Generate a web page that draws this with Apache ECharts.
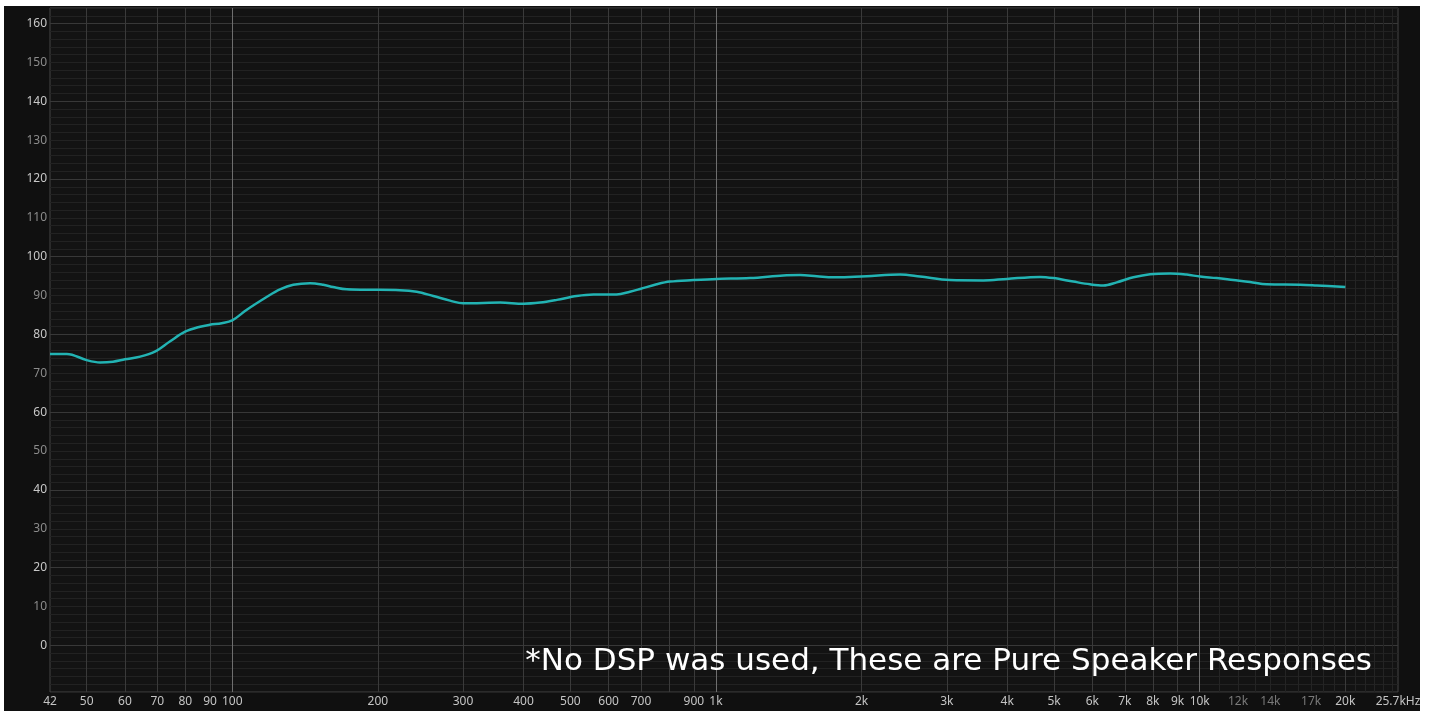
<!DOCTYPE html>
<html><head><meta charset="utf-8">
<script src="https://cdn.jsdelivr.net/npm/echarts@6/dist/echarts.min.js"></script>
<style>html,body{margin:0;padding:0;background:#ffffff;}#c{width:1431px;height:711px;}</style>
</head><body><div id="c"></div>
<script>
// Frequency (Hz) and SPL (dB)
const freqHz = [42, 45.5, 50, 53.3, 56.7, 60, 64.5, 69.2, 74.3, 79.9, 85.8, 89.9, 95.1, 100, 107, 118, 125.5, 133.7, 144.8, 154.2, 161.6, 172.5, 189.7, 222, 240.6, 260.4, 282, 300, 330, 358, 400, 433, 469, 515, 558, 623, 664, 697, 754, 803, 898, 1003, 1176, 1378, 1492, 1616, 1748, 1893, 2049, 2402, 2641, 3047, 3570, 3992, 4676, 4981, 5480, 5934, 6322, 6737, 7293, 7896, 8685, 9401, 10016, 10844, 11734, 12710, 13760, 16120, 17455, 20000];
const splDb = [75.0, 75.0, 73.4, 72.8, 73.0, 73.6, 74.3, 75.6, 78.2, 80.7, 82.0, 82.5, 82.9, 83.6, 86.3, 89.7, 91.6, 92.8, 93.2, 92.8, 92.2, 91.6, 91.5, 91.4, 91.0, 89.9, 88.7, 88.0, 88.1, 88.2, 87.9, 88.2, 88.9, 89.9, 90.3, 90.3, 91.0, 91.7, 92.9, 93.6, 94.0, 94.3, 94.5, 95.2, 95.3, 95.0, 94.7, 94.8, 95.0, 95.4, 94.9, 94.0, 93.9, 94.3, 94.8, 94.5, 93.6, 92.9, 92.6, 93.4, 94.7, 95.5, 95.7, 95.4, 94.9, 94.5, 94.0, 93.5, 92.9, 92.8, 92.6, 92.2];

// Vertical grid lines (Hz)
const xGridDecade = [100, 1000, 10000];
const xGridNormal = [50, 60, 70, 80, 90, 200, 300, 400, 500, 600, 700, 800, 900, 2000, 3000, 4000, 5000, 6000, 7000, 8000, 9000, 20000];
const xGridFine = [11000, 12000, 13000, 14000, 15000, 16000, 17000, 18000, 19000, 21000, 22000, 23000, 24000, 25000];

// X tick labels
const xTickValues = [42, 50, 60, 70, 80, 90, 100, 200, 300, 400, 500, 600, 700, 900, 1000, 2000, 3000, 4000, 5000, 6000, 7000, 8000, 9000, 10000, 12000, 14000, 17000, 20000, 25700];
const xTickLabels = ['42', '50', '60', '70', '80', '90', '100', '200', '300', '400', '500', '600', '700', '900', '1k', '2k', '3k', '4k', '5k', '6k', '7k', '8k', '9k', '10k', '12k', '14k', '17k', '20k', '25.7kHz'];
const xTickDim = [12000, 14000, 17000];

// Y axis
const yMin = -12, yMax = 164, yMinorStep = 2;
const yLabelStep = 10, yMajorStep = 20;

const note = '*No DSP was used, These are Pure Speaker Responses';

const FONT = '"Noto Sans", "DejaVu Sans", sans-serif';

const lineData = freqHz.map((f, i) => [f, splDb[i]]);

const markData = [];
xGridFine.forEach(v => markData.push({xAxis: v, lineStyle: {color: '#242424', width: 1, type: 'solid'}, label: {show: false}}));
xGridNormal.forEach(v => markData.push({xAxis: v, lineStyle: {color: '#3a3a3a', width: 1, type: 'solid'}, label: {show: false}}));
xGridDecade.forEach(v => markData.push({xAxis: v, lineStyle: {color: '#6e6e6e', width: 1, type: 'solid'}, label: {show: false}}));
xTickValues.forEach((v, i) => markData.push({
  xAxis: v,
  lineStyle: {color: 'rgba(0,0,0,0)', width: 0},
  label: {show: true, position: 'start', formatter: xTickLabels[i], distance: 4,
    color: xTickDim.indexOf(v) >= 0 ? '#7a7a7a' : '#c4c4c4', fontSize: 12, fontFamily: FONT}
}));

// split line colour cycle: brighter at multiples of 20 dB
const cycle = yMajorStep / yMinorStep;
const splitColors = [];
for (let i = 0; i < cycle; i++) {
  const val = yMin + i * yMinorStep;
  splitColors.push(((val % yMajorStep) + yMajorStep) % yMajorStep === 0 ? '#383838' : '#222222');
}

const chart = echarts.init(document.getElementById('c'), null, {renderer: 'canvas'});
chart.setOption({
  animation: false,
  backgroundColor: 'transparent',
  graphic: [
    {type: 'rect', z: -100, shape: {x: 4, y: 6, width: 1416, height: 705}, style: {fill: '#101010'}, silent: true},
    {type: 'text', z: 100, style: {text: note, x: 1372, y: 662, textAlign: 'right', textVerticalAlign: 'middle',
      fontSize: 31, fontFamily: '"DejaVu Sans", "Noto Sans", sans-serif', fill: '#ffffff'}, silent: true}
  ],
  grid: {left: 50, right: 33, top: 8, bottom: 19, show: true, backgroundColor: '#131313', borderColor: '#444444', borderWidth: 1, containLabel: false, outerBoundsMode: 'none'},
  xAxis: {
    type: 'log', logBase: 10, min: 42, max: 25700,
    axisLine: {show: false}, axisTick: {show: false}, axisLabel: {show: false}, splitLine: {show: false}, minorSplitLine: {show: false}
  },
  yAxis: {
    type: 'value', min: yMin, max: yMax, interval: yMinorStep,
    axisLine: {show: false}, axisTick: {show: false},
    axisLabel: {
      margin: 3, fontSize: 12, fontFamily: FONT,
      formatter: v => (v >= 0 && v % yLabelStep === 0) ? String(v) : '',
      color: v => (Number(v) % yMajorStep === 0) ? '#c8c8c8' : '#8c8c8c'
    },
    splitLine: {show: true, lineStyle: {color: splitColors, width: 1}}
  },
  series: [
    {
      type: 'line', data: [], z: 1, silent: true,
      markLine: {silent: true, symbol: ['none', 'none'], animation: false, data: markData}
    },
    {
      type: 'line', data: lineData, z: 5, smooth: 0.35, showSymbol: false, silent: true,
      lineStyle: {color: '#22b3b3', width: 2.5}
    }
  ]
});
</script></body></html>
